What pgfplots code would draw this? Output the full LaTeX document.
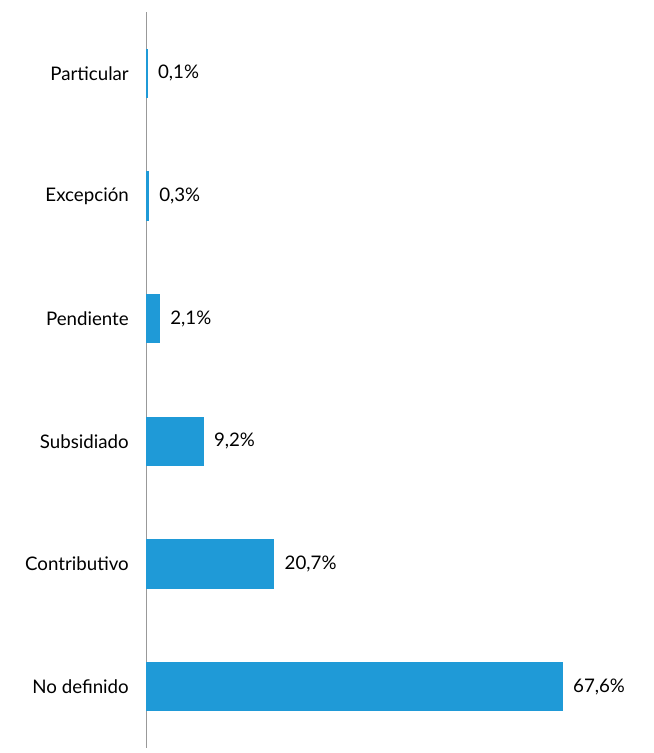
\documentclass[border=0pt]{standalone}
\usepackage{pgfplots}
\pgfplotsset{compat=1.18}
\usepackage{fontspec}
\setmainfont{Lato}
\definecolor{barblue}{RGB}{31,154,215}

\begin{document}
\begin{tikzpicture}
\begin{axis}[
    name=ax,
    scale only axis,
    width=370.5pt,
    height=550.8pt,
    xbar,
    bar width=36pt,
    xmin=0, xmax=80.5,
    ymin=-0.5, ymax=5.5,
    axis y line=left,
    axis x line=none,
    axis line style={gray!80, line width=0.9pt, -},
    ytick={0,1,2,3,4,5},
    yticklabels={No definido, Contributivo, Subsidiado, Pendiente, Excepción, Particular},
    major tick length=0pt,
    yticklabel style={font=\fontsize{14}{16}\selectfont, xshift=-9.6pt},
    point meta=x,
    nodes near coords={\pgfmathprintnumber{\pgfplotspointmeta}\%},
    nodes near coords style={font=\fontsize{14}{16}\selectfont, anchor=west, xshift=4.5pt,
        /pgf/number format/.cd, fixed, fixed zerofill, precision=1, use comma, assume math mode=true},
    clip=false,
]
\addplot[fill=barblue, draw=barblue, line width=1pt] coordinates {
    (67.6,0)
    (20.7,1)
    (9.2,2)
    (2.1,3)
    (0.3,4)
    (0.1,5)
};
\end{axis}
\pgfresetboundingbox
\path[use as bounding box] ([xshift=-109.5pt,yshift=-3.75pt]ax.south west) rectangle ([xshift=379.5pt,yshift=9pt]ax.north west);
\end{tikzpicture}
\end{document}
